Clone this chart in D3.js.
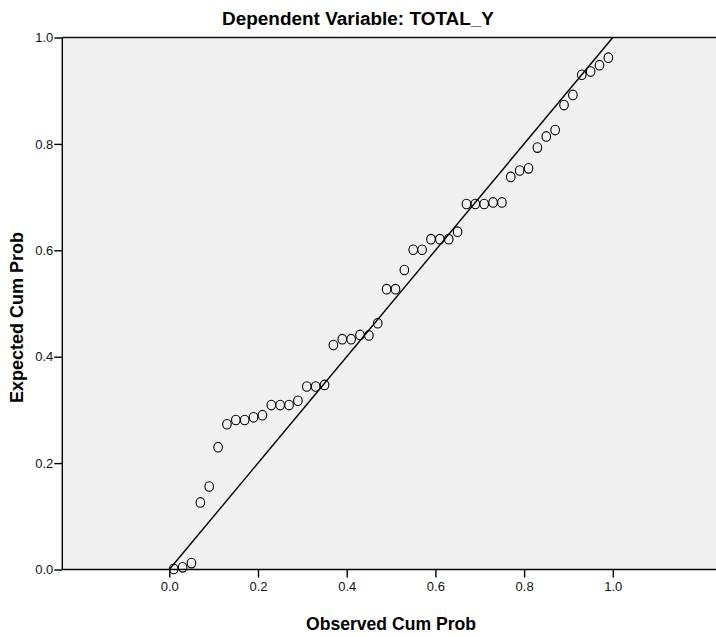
<!DOCTYPE html>
<html>
<head>
<meta charset="utf-8">
<script src="https://cdn.jsdelivr.net/npm/d3@7"></script>
<style>
  html, body { margin: 0; padding: 0; background: #ffffff; }
  svg { display: block; }
</style>
</head>
<body>
<svg id="chart" width="716" height="637"></svg>
<script>
// ---- data ----
const observedCumProb = [0.01,0.03,0.05,0.07,0.09,0.11,0.13,0.15,0.17,0.19,
  0.21,0.23,0.25,0.27,0.29,0.31,0.33,0.35,0.37,0.39,
  0.41,0.43,0.45,0.47,0.49,0.51,0.53,0.55,0.57,0.59,
  0.61,0.63,0.65,0.67,0.69,0.71,0.73,0.75,0.77,0.79,
  0.81,0.83,0.85,0.87,0.89,0.91,0.93,0.95,0.97,0.99];
const expectedCumProb = [0.001,0.004,0.012,0.126,0.156,0.230,0.273,0.281,0.281,0.286,
  0.290,0.309,0.309,0.309,0.317,0.344,0.344,0.347,0.422,0.433,
  0.433,0.441,0.440,0.463,0.527,0.527,0.563,0.601,0.601,0.621,
  0.621,0.621,0.635,0.687,0.687,0.687,0.690,0.690,0.738,0.750,
  0.754,0.793,0.814,0.826,0.873,0.892,0.930,0.936,0.948,0.962];
const xTicks = [0.0, 0.2, 0.4, 0.6, 0.8, 1.0];
const yTicks = [0.0, 0.2, 0.4, 0.6, 0.8, 1.0];
const titleText = "Dependent Variable: TOTAL_Y";
const xLabel = "Observed Cum Prob";
const yLabel = "Expected Cum Prob";

// ---- layout ----
const svg = d3.select("#chart");
const plotLeft = 62.3, plotTop = 37.5, plotBottom = 569.5, plotRight = 716;
const x = d3.scaleLinear().domain([0, 1]).range([169.3, 612.8]);
const y = d3.scaleLinear().domain([0, 1]).range([plotBottom, plotTop]);

// background
svg.append("rect")
  .attr("x", plotLeft).attr("y", plotTop)
  .attr("width", plotRight - plotLeft + 10).attr("height", plotBottom - plotTop)
  .attr("fill", "#f0f0f0");

// points
const pts = observedCumProb.map((d, i) => ({o: d, e: expectedCumProb[i]}));
svg.append("g").selectAll("ellipse").data(pts).enter().append("ellipse")
  .attr("cx", d => x(d.o)).attr("cy", d => y(d.e))
  .attr("rx", 4.3).attr("ry", 4.8)
  .attr("fill", "none").attr("stroke", "#000").attr("stroke-width", 1.1);

// reference line
svg.append("line")
  .attr("x1", x(0)).attr("y1", y(0)).attr("x2", x(1)).attr("y2", y(1))
  .attr("stroke", "#000").attr("stroke-width", 1.4);

// frame lines
svg.append("line").attr("x1", plotLeft).attr("x2", plotRight).attr("y1", plotTop).attr("y2", plotTop)
  .attr("stroke", "#111").attr("stroke-width", 1.5);

// axes
const fmt = d3.format(".1f");
const xAxis = d3.axisBottom(x).tickValues(xTicks).tickFormat(fmt).tickSize(8).tickSizeOuter(0);
const gx = svg.append("g").attr("transform", `translate(0,${plotBottom})`).call(xAxis);
gx.select(".domain").remove();
gx.append("line").attr("x1", plotLeft).attr("x2", plotRight).attr("y1", 0).attr("y2", 0)
  .attr("stroke", "#000").attr("stroke-width", 1.6);
gx.selectAll(".tick line").attr("stroke", "#000").attr("stroke-width", 1.4);
gx.selectAll(".tick text").attr("y", 12).attr("dy", "0.71em")
  .attr("font-family", "'Liberation Sans Narrow', 'Liberation Sans', Arial, sans-serif")
  .attr("font-size", 13).attr("fill", "#111");

const yAxis = d3.axisLeft(y).tickValues(yTicks).tickFormat(fmt).tickSize(8).tickSizeOuter(0);
const gy = svg.append("g").attr("transform", `translate(${plotLeft},0)`).call(yAxis);
gy.select(".domain").remove();
gy.append("line").attr("x1", 0).attr("x2", 0).attr("y1", plotTop).attr("y2", plotBottom)
  .attr("stroke", "#000").attr("stroke-width", 1.4);
gy.selectAll(".tick line").attr("stroke", "#000").attr("stroke-width", 1.4);
gy.selectAll(".tick text").attr("x", -9)
  .attr("font-family", "'Liberation Sans Narrow', 'Liberation Sans', Arial, sans-serif")
  .attr("font-size", 13).attr("fill", "#111");

// title
svg.append("text")
  .attr("x", 358).attr("y", 25).attr("text-anchor", "middle")
  .attr("font-family", "'Liberation Sans Narrow', 'Liberation Sans', Arial, sans-serif")
  .attr("font-weight", "bold").attr("font-size", 18)
  .attr("textLength", 272).attr("lengthAdjust", "spacingAndGlyphs")
  .attr("fill", "#000").text(titleText);

// x label
svg.append("text")
  .attr("x", 391).attr("y", 630).attr("text-anchor", "middle")
  .attr("font-family", "'Liberation Sans', Arial, sans-serif")
  .attr("font-weight", "bold").attr("font-size", 18)
  .attr("textLength", 170).attr("lengthAdjust", "spacingAndGlyphs")
  .attr("fill", "#000").text(xLabel);

// y label
svg.append("text")
  .attr("transform", "translate(23,317.5) rotate(-90)").attr("text-anchor", "middle")
  .attr("font-family", "'Liberation Sans', Arial, sans-serif")
  .attr("font-weight", "bold").attr("font-size", 18)
  .attr("textLength", 171).attr("lengthAdjust", "spacingAndGlyphs")
  .attr("fill", "#000").text(yLabel);
</script>
</body>
</html>
